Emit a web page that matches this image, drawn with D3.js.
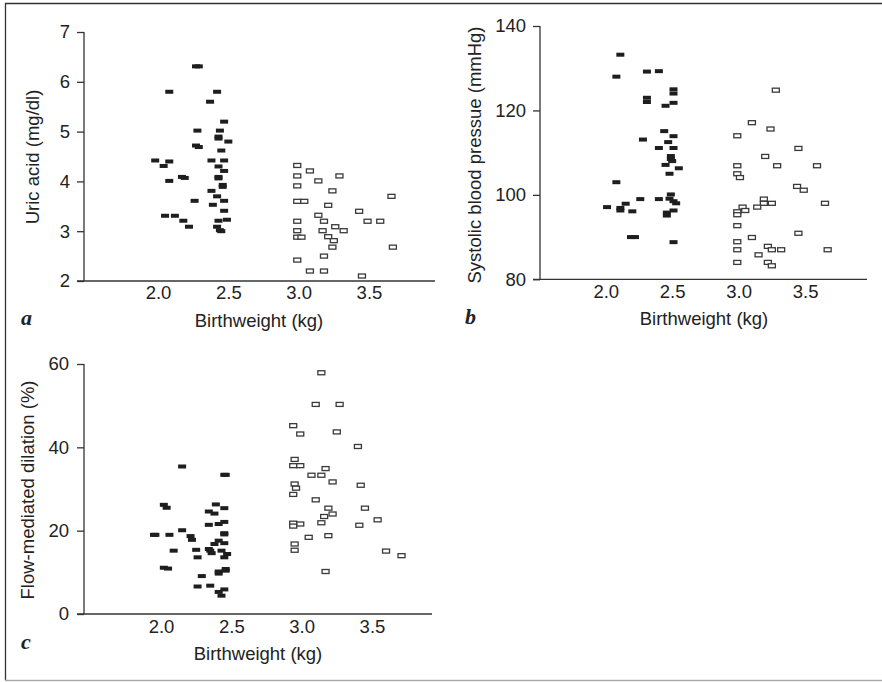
<!DOCTYPE html>
<html>
<head>
<meta charset="utf-8">
<script src="https://cdn.jsdelivr.net/npm/d3@7"></script>
<style>
  body { margin: 0; background: #fff; }
  svg text { font-family: "Liberation Sans", Arial, Helvetica, sans-serif; fill: #222; }
</style>
</head>
<body>
<div id="chart"></div>
<script>
// birthweight (kg), value
const uricLow = [[2.27,6.31],[2.29,6.31],[2.08,5.8],[2.42,5.8],[2.37,5.6],[2.47,5.2],[2.28,5.02],[2.44,5.02],
  [2.43,4.9],[2.43,4.86],[2.50,4.8],[2.27,4.72],[2.29,4.69],[2.45,4.62],[1.98,4.42],[2.08,4.4],[2.04,4.31],
  [2.38,4.42],[2.47,4.42],[2.43,4.3],[2.47,4.21],[2.17,4.09],[2.19,4.07],[2.08,4.01],[2.43,4.09],[2.43,4.06],
  [2.46,3.93],[2.46,3.89],[2.38,3.81],[2.42,3.7],[2.26,3.61],[2.47,3.61],[2.39,3.53],[2.47,3.41],
  [2.05,3.31],[2.12,3.31],[2.18,3.21],[2.43,3.21],[2.49,3.23],[2.22,3.09],[2.42,3.09],[2.44,3.02],[2.45,3.0]]
const uricNormal = [[2.99,4.32],[3.08,4.21],[2.99,4.11],[3.29,4.11],[3.14,4.01],[2.99,3.91],[3.24,3.81],
  [2.99,3.6],[3.04,3.6],[3.66,3.7],[3.21,3.52],[3.14,3.32],[3.43,3.4],[2.99,3.2],[3.18,3.2],[3.49,3.2],
  [3.58,3.2],[3.26,3.09],[2.99,3.01],[3.17,3.01],[3.32,3.01],[2.99,2.88],[3.02,2.88],[3.21,2.89],[3.25,2.81],
  [3.24,2.68],[3.67,2.68],[3.18,2.5],[2.99,2.42],[3.08,2.2],[3.18,2.2],[3.45,2.1]]

const sbpLow = [[2.11,133.2],[2.08,128.0],[2.31,129.2],[2.40,129.3],[2.51,125.0],[2.51,124.0],[2.31,123.0],
  [2.31,122.0],[2.51,121.8],[2.45,121.1],[2.44,115.1],[2.51,113.9],[2.28,113.1],[2.47,112.5],[2.40,111.1],
  [2.51,111.1],[2.49,109.2],[2.49,108.5],[2.50,108.0],[2.45,107.1],[2.55,106.3],[2.48,105.0],[2.08,103.0],
  [2.49,100.1],[2.26,99.0],[2.40,99.0],[2.48,99.1],[2.51,98.5],[2.53,98.0],[2.15,97.9],[2.01,97.1],
  [2.11,96.9],[2.11,96.3],[2.20,96.1],[2.51,96.3],[2.46,95.8],[2.46,95.1],[2.19,90.0],[2.22,90.0],[2.51,88.8]]
const sbpNormal = [[3.28,124.8],[3.10,117.1],[3.24,115.6],[2.99,114.0],[3.45,111.0],[3.20,109.1],[2.99,106.9],
  [3.29,106.9],[3.59,106.9],[2.99,105.0],[3.01,104.1],[3.44,102.0],[3.49,101.1],[3.19,99.0],[3.19,98.0],
  [3.25,98.0],[3.65,98.0],[3.14,97.1],[3.03,97.1],[3.05,96.3],[2.99,96.0],[2.99,95.3],[2.99,92.7],[3.45,90.9],
  [3.10,89.9],[2.99,88.9],[3.22,87.8],[2.99,87.0],[3.25,87.0],[3.32,87.0],[3.67,87.0],[3.15,85.8],[2.99,84.0],
  [3.22,84.0],[3.25,83.2]]

const fmdLow = [[2.15,35.4],[2.45,33.4],[2.46,33.4],[2.02,26.2],[2.04,25.5],[2.39,26.3],[2.45,25.4],[2.34,24.6],
  [2.38,24.1],[2.45,22.1],[2.41,21.6],[2.34,21.4],[1.95,19.0],[1.96,19.0],[2.06,19.0],[2.15,20.1],[2.21,18.7],
  [2.22,17.8],[2.45,19.4],[2.45,19.1],[2.41,17.6],[2.38,16.8],[2.45,17.0],[2.09,15.2],[2.25,15.4],[2.34,15.6],
  [2.35,15.2],[2.36,14.6],[2.43,15.2],[2.47,14.4],[2.45,13.6],[2.26,13.6],[2.02,11.1],[2.05,10.9],[2.46,10.8],
  [2.46,10.4],[2.41,10.2],[2.41,9.7],[2.29,9.1],[2.26,6.6],[2.35,6.8],[2.45,5.9],[2.41,5.3],[2.43,4.4]]
const fmdNormal = [[3.14,57.9],[3.10,50.3],[3.27,50.3],[2.94,45.2],[2.99,43.2],[3.25,43.7],[3.40,40.2],
  [2.95,37.1],[2.94,35.6],[2.99,35.6],[3.17,34.9],[3.07,33.3],[3.14,33.3],[3.22,31.7],[2.95,31.2],[2.96,30.2],
  [3.42,30.9],[2.94,28.7],[3.10,27.4],[3.19,25.4],[3.45,25.4],[3.22,24.0],[3.16,23.4],[3.54,22.6],[3.14,21.9],
  [2.94,21.8],[2.99,21.6],[2.94,21.1],[3.41,21.3],[3.05,18.4],[3.19,18.8],[2.95,16.8],[2.95,15.3],[3.60,15.1],
  [3.71,14.0],[3.17,10.2]]

const xTicks = [2.0, 2.5, 3.0, 3.5]
const FONT = 18.5

const svg = d3.select('#chart').append('svg')
  .attr('width', 882)
  .attr('height', 682)

// frame
svg.append('line').attr('x1', 5).attr('x2', 882).attr('y1', 3.5).attr('y2', 3.5)
  .attr('stroke', '#333').attr('stroke-width', 1.3)
svg.append('line').attr('x1', 5.5).attr('x2', 5.5).attr('y1', 3).attr('y2', 680)
  .attr('stroke', '#333').attr('stroke-width', 1.3)
svg.append('line').attr('x1', 5).attr('x2', 882).attr('y1', 680.5).attr('y2', 680.5)
  .attr('stroke', '#aaa').attr('stroke-width', 1.3)

function panel(p) {
  const x = d3.scaleLinear().domain([1.5, 4.0]).range(p.xr)
  const y = d3.scaleLinear().domain(p.yd).range(p.yr)
  const g = svg.append('g')

  g.append('g')
    .attr('transform', `translate(${p.left}, 0)`)
    .call(d3.axisLeft(y).tickValues(p.yTicks).tickFormat(d3.format('d')).tickSize(7).tickPadding(p.yPad).tickSizeOuter(0))
    .call(a => a.select('.domain').remove())
    .call(a => a.selectAll('line').attr('stroke', '#333').attr('stroke-width', 1.3))
    .call(a => a.selectAll('text').attr('font-size', FONT).attr('fill', '#222'))

  g.append('line')
    .attr('x1', p.left).attr('x2', p.left)
    .attr('y1', p.yr[1]).attr('y2', p.yr[0])
    .attr('stroke', '#333').attr('stroke-width', 1.3)

  g.append('g')
    .attr('transform', `translate(0, ${p.yr[0]})`)
    .call(d3.axisBottom(x).tickValues(xTicks).tickFormat(d3.format('.1f')).tickSize(0).tickPadding(p.xPad))
    .call(a => a.select('.domain').remove())
    .call(a => a.selectAll('text').attr('font-size', FONT).attr('fill', '#222'))

  g.append('line')
    .attr('x1', p.left - 7).attr('x2', p.right)
    .attr('y1', p.yr[0]).attr('y2', p.yr[0])
    .attr('stroke', '#333').attr('stroke-width', 1.3)

  g.append('text')
    .attr('x', p.xLab[0]).attr('y', p.xLab[1])
    .attr('text-anchor', 'middle')
    .attr('font-size', FONT)
    .text('Birthweight (kg)')

  g.append('text')
    .attr('transform', `translate(${p.yLab[0]}, ${p.yLab[1]}) rotate(-90)`)
    .attr('dy', '0.35em')
    .attr('text-anchor', 'middle')
    .attr('font-size', FONT)
    .text(p.yTitle)

  g.append('text')
    .attr('x', p.letter[0]).attr('y', p.letter[1])
    .style('font-family', '"Liberation Serif", "Times New Roman", serif')
    .attr('font-weight', 'bold').attr('font-style', 'italic')
    .attr('font-size', 22)
    .text(p.name)

  g.selectAll('rect.low').data(p.low).enter().append('rect')
    .attr('class', 'low')
    .attr('x', d => x(d[0]) - 4).attr('y', d => y(d[1]) - 2)
    .attr('width', 8).attr('height', 4)
    .attr('fill', '#1e1e1e')

  g.selectAll('rect.normal').data(p.normal).enter().append('rect')
    .attr('class', 'normal')
    .attr('x', d => x(d[0]) - 3.5).attr('y', d => y(d[1]) - 2)
    .attr('width', 7).attr('height', 4)
    .attr('fill', '#fff').attr('stroke', '#3a3a3a').attr('stroke-width', 1.3)
}

panel({
  name: 'a', low: uricLow, normal: uricNormal,
  xr: [87.7, 439.3], yd: [2, 7], yr: [281, 32], yTicks: [2, 3, 4, 5, 6, 7],
  left: 84, right: 435, yPad: 7, xPad: 5,
  xLab: [259, 327], yLab: [33, 157], letter: [21, 325],
  yTitle: 'Uric acid (mg/dl)'
})

panel({
  name: 'b', low: sbpLow, normal: sbpNormal,
  xr: [539.3, 871.5], yd: [80, 140], yr: [279.3, 26], yTicks: [80, 100, 120, 140],
  left: 540, right: 867, yPad: 7, xPad: 6,
  xLab: [704, 325], yLab: [475, 155], letter: [465, 324],
  yTitle: 'Systolic blood pressue (mmHg)'
})

panel({
  name: 'c', low: fmdLow, normal: fmdNormal,
  xr: [90.7, 442.3], yd: [0, 60], yr: [614, 364], yTicks: [0, 20, 40, 60],
  left: 84, right: 432, yPad: 8, xPad: 6,
  xLab: [258, 660], yLab: [28, 490], letter: [21, 649],
  yTitle: 'Flow-mediated dilation (%)'
})
</script>
</body>
</html>
